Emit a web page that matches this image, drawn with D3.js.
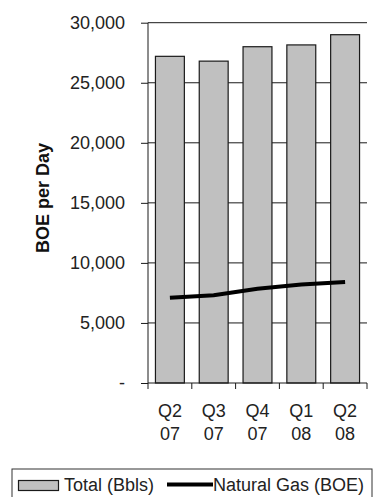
<!DOCTYPE html>
<html>
<head>
<meta charset="utf-8">
<script src="https://cdn.jsdelivr.net/npm/d3@7"></script>
<style>
  html, body { margin: 0; padding: 0; background: #fff; }
  svg { display: block; font-family: "Liberation Sans", Arial, sans-serif; }
</style>
</head>
<body>
<svg id="chart" width="374" height="497"></svg>
<script>
const quarters = ["Q2", "Q3", "Q4", "Q1", "Q2"];
const years = ["07", "07", "07", "08", "08"];
const totalBbls = [27200, 26800, 28000, 28150, 29000];
const naturalGasBOE = [7100, 7300, 7850, 8200, 8400];
const yTicks = [0, 5000, 10000, 15000, 20000, 25000, 30000];
const categories = quarters.map((q, i) => q + " " + years[i] + "#" + i);

(function () {
const svg = d3.select("#chart");
const pLeft = 148, pRight = 367, pTop = 22.7, pBottom = 383;
const ink = "#1a1a1a";

const x = d3.scaleBand().domain(categories).range([pLeft, pRight])
  .paddingInner(0.34).paddingOuter(0.17);
const y = d3.scaleLinear().domain([0, 30000]).range([pBottom, pTop]);

// gridlines
svg.append("g").selectAll("line").data(yTicks.filter(d => d > 0)).join("line")
  .attr("x1", pLeft).attr("x2", pRight)
  .attr("y1", d => y(d)).attr("y2", d => y(d))
  .attr("stroke", ink).attr("stroke-width", 1);

// bars
svg.append("g").selectAll("rect").data(totalBbls).join("rect")
  .attr("x", (d, i) => x(categories[i]))
  .attr("width", x.bandwidth())
  .attr("y", d => y(d))
  .attr("height", d => y(0) - y(d))
  .attr("fill", "#c0c0c0")
  .attr("stroke", ink).attr("stroke-width", 1.2);

// y axis
const yAxis = d3.axisLeft(y).tickValues(yTicks)
  .tickSize(7).tickPadding(16)
  .tickFormat(d => d === 0 ? "-" : d3.format(",")(d));
const gy = svg.append("g").attr("transform", `translate(${pLeft},0)`).call(yAxis);
gy.select(".domain").attr("stroke", ink).attr("d", `M0,${pTop}V${pBottom}`);
gy.selectAll(".tick line").attr("stroke", ink);
gy.selectAll(".tick text").attr("font-size", 18).attr("fill", "#222")
  .attr("font-family", '"Liberation Sans", Arial, sans-serif');

// x axis
const xAxis = d3.axisBottom(x).tickSize(0).tickFormat(() => "");
const gx = svg.append("g").attr("transform", `translate(0,${pBottom})`).call(xAxis);
gx.select(".domain").attr("stroke", ink).attr("d", `M${pLeft},0H${pRight}`);
const bounds = categories.map(c => x(c) - x.step() * x.paddingInner() / 2).concat([pRight]);
gx.append("g").selectAll("line").data(bounds).join("line")
  .attr("x1", d => d).attr("x2", d => d).attr("y1", 0).attr("y2", 6)
  .attr("stroke", ink);
const lab = gx.append("g").selectAll("text").data(categories).join("text")
  .attr("text-anchor", "middle").attr("font-size", 18).attr("fill", "#222")
  .attr("font-family", '"Liberation Sans", Arial, sans-serif');
lab.append("tspan").attr("x", d => x(d) + x.bandwidth() / 2).attr("y", 34)
  .text((d, i) => quarters[i]);
lab.append("tspan").attr("x", d => x(d) + x.bandwidth() / 2).attr("y", 57)
  .text((d, i) => years[i]);

// natural gas line
const line = d3.line()
  .x((d, i) => x(categories[i]) + x.bandwidth() / 2)
  .y(d => y(d));
svg.append("path").datum(naturalGasBOE)
  .attr("d", line).attr("fill", "none")
  .attr("stroke", "#000").attr("stroke-width", 4);

// y title
svg.append("text")
  .attr("transform", "translate(49,198) rotate(-90)")
  .attr("text-anchor", "middle").attr("font-size", 18).attr("font-weight", "bold")
  .attr("fill", "#111").text("BOE per Day");

// legend
const lg = svg.append("g");
lg.append("rect").attr("x", 12).attr("y", 469).attr("width", 360).attr("height", 50)
  .attr("fill", "#fff").attr("stroke", "#333").attr("stroke-width", 1);
lg.append("rect").attr("x", 18.5).attr("y", 480.5).attr("width", 40).attr("height", 10)
  .attr("fill", "#c0c0c0").attr("stroke", ink).attr("stroke-width", 1.2);
lg.append("text").attr("x", 64).attr("y", 491).attr("font-size", 18).attr("fill", "#222")
  .text("Total (Bbls)");
lg.append("line").attr("x1", 167).attr("x2", 213).attr("y1", 484.5).attr("y2", 484.5)
  .attr("stroke", "#000").attr("stroke-width", 4);
lg.append("text").attr("x", 213).attr("y", 491).attr("font-size", 18).attr("fill", "#222")
  .text("Natural Gas (BOE)");
})();
</script>
</body>
</html>
